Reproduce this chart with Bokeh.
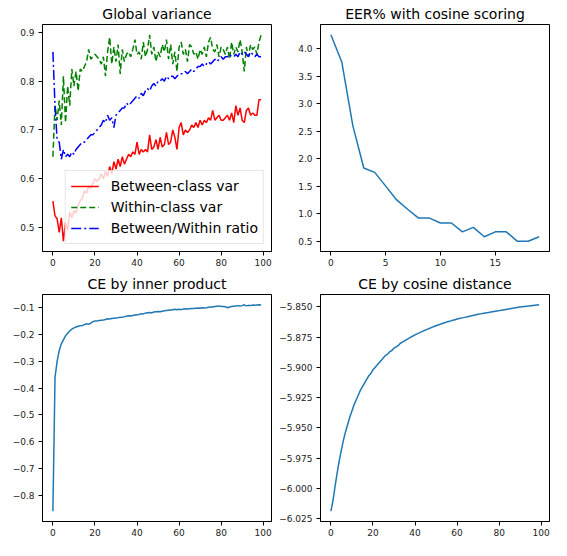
from bokeh.plotting import figure
from bokeh.layouts import column, row
from bokeh.models import Range1d, FixedTicker, CustomJSTickFormatter
from bokeh.embed import file_html
from bokeh.resources import INLINE

# ---------------- data ----------------
epochs100 = list(range(100))
epochs20 = list(range(20))

between_var = [
    0.554, 0.524, 0.518, 0.490, 0.520, 0.472, 0.510, 0.495, 0.532, 0.520, 0.535,
    0.530, 0.545, 0.555, 0.560, 0.575, 0.570, 0.585, 0.580, 0.590, 0.600,
    0.595, 0.600, 0.610, 0.600, 0.615, 0.605, 0.625, 0.610, 0.635, 0.620,
    0.640, 0.625, 0.645, 0.630, 0.640, 0.650, 0.645, 0.655, 0.650, 0.675,
    0.650, 0.660, 0.655, 0.660, 0.655, 0.690, 0.660, 0.665, 0.680, 0.660,
    0.685, 0.665, 0.670, 0.695, 0.670, 0.675, 0.700, 0.685, 0.660, 0.705,
    0.715, 0.690, 0.700, 0.695, 0.700, 0.710, 0.705, 0.715, 0.705, 0.720,
    0.710, 0.720, 0.715, 0.725, 0.720, 0.740, 0.720, 0.725, 0.730, 0.720,
    0.720, 0.725, 0.730, 0.720, 0.735, 0.715, 0.750, 0.730, 0.745, 0.720,
    0.715, 0.740, 0.745, 0.730, 0.735, 0.730, 0.730, 0.762, 0.762,
]
within_var = [
    0.645, 0.750, 0.720, 0.760, 0.710, 0.810, 0.715, 0.790, 0.750, 0.825, 0.790,
    0.820, 0.780, 0.825, 0.820, 0.830, 0.840, 0.865, 0.845, 0.850, 0.855,
    0.850, 0.845, 0.835, 0.850, 0.810, 0.860, 0.890, 0.835, 0.870, 0.840,
    0.875, 0.815, 0.865, 0.840, 0.855, 0.860, 0.850, 0.865, 0.885, 0.855,
    0.860, 0.845, 0.880, 0.850, 0.865, 0.895, 0.855, 0.870, 0.840, 0.860,
    0.850, 0.875, 0.860, 0.885, 0.845, 0.875, 0.835, 0.860, 0.820, 0.870,
    0.880, 0.855, 0.865, 0.840, 0.875, 0.870, 0.855, 0.860, 0.845, 0.865,
    0.855, 0.870, 0.850, 0.880, 0.890, 0.865, 0.860, 0.875, 0.850, 0.870,
    0.865, 0.855, 0.870, 0.845, 0.880, 0.855, 0.870, 0.860, 0.885, 0.860,
    0.820, 0.870, 0.850, 0.875, 0.865, 0.870, 0.855, 0.880, 0.895,
]
ratio = [
    0.860, 0.750, 0.680, 0.675, 0.640, 0.660, 0.645, 0.650, 0.645, 0.655, 0.650,
    0.660, 0.665, 0.670, 0.675, 0.675, 0.680, 0.685, 0.690, 0.690, 0.695,
    0.700, 0.705, 0.710, 0.720, 0.715, 0.730, 0.720, 0.725, 0.705, 0.730,
    0.735, 0.740, 0.745, 0.745, 0.755, 0.750, 0.755, 0.760, 0.765, 0.770,
    0.765, 0.775, 0.770, 0.780, 0.785, 0.780, 0.790, 0.795, 0.790, 0.800,
    0.800, 0.805, 0.800, 0.810, 0.805, 0.810, 0.810, 0.805, 0.810, 0.815,
    0.815, 0.815, 0.820, 0.815, 0.820, 0.825, 0.820, 0.825, 0.830, 0.830,
    0.835, 0.830, 0.835, 0.840, 0.835, 0.840, 0.845, 0.840, 0.845, 0.850,
    0.845, 0.850, 0.850, 0.855, 0.850, 0.850, 0.855, 0.850, 0.860, 0.855,
    0.860, 0.855, 0.850, 0.860, 0.855, 0.850, 0.855, 0.850, 0.850,
]
eer = [4.25, 3.75, 2.60, 1.83, 1.75, 1.50, 1.25, 1.08, 0.92, 0.92,
       0.83, 0.83, 0.67, 0.75, 0.58, 0.67, 0.67, 0.50, 0.50, 0.58]
ce_inner = [
    -0.860, -0.360, -0.300, -0.260, -0.235, -0.220, -0.205, -0.195, -0.187, -0.180,
    -0.175, -0.172, -0.169, -0.167, -0.166, -0.163, -0.160, -0.162, -0.157, -0.152,
    -0.149, -0.149, -0.148, -0.147, -0.146, -0.144, -0.141, -0.142, -0.140, -0.139,
    -0.138, -0.137, -0.135, -0.136, -0.133, -0.132, -0.130, -0.131, -0.129, -0.127,
    -0.126, -0.125, -0.122, -0.123, -0.120, -0.119, -0.118, -0.119, -0.116, -0.115,
    -0.114, -0.115, -0.113, -0.111, -0.110, -0.109, -0.108, -0.107, -0.106, -0.107,
    -0.106, -0.107, -0.105, -0.104, -0.105, -0.104, -0.103, -0.103, -0.102, -0.101,
    -0.102, -0.100, -0.101, -0.100, -0.098, -0.097, -0.097, -0.095, -0.094, -0.093,
    -0.095, -0.095, -0.096, -0.100, -0.097, -0.095, -0.094, -0.093, -0.092, -0.093,
    -0.092, -0.089, -0.093, -0.091, -0.092, -0.090, -0.091, -0.090, -0.089, -0.090,
]
ce_cosine = [
    -6.0190, -6.0100, -5.9980, -5.9870, -5.9770, -5.9680, -5.9600, -5.9530, -5.9470, -5.9410,
    -5.9360, -5.9310, -5.9270, -5.9230, -5.9190, -5.9160, -5.9130, -5.9100, -5.9070, -5.9050,
    -5.9020, -5.9000, -5.8980, -5.8960, -5.8940, -5.8920, -5.8900, -5.8890, -5.8870, -5.8860,
    -5.8840, -5.8830, -5.8820, -5.8800, -5.8790, -5.8780, -5.8770, -5.8760, -5.8750, -5.8740,
    -5.8730, -5.8722, -5.8714, -5.8706, -5.8698, -5.8690, -5.8683, -5.8676, -5.8669, -5.8662,
    -5.8655, -5.8649, -5.8643, -5.8637, -5.8631, -5.8625, -5.8620, -5.8615, -5.8610, -5.8605,
    -5.8600, -5.8596, -5.8592, -5.8588, -5.8584, -5.8580, -5.8576, -5.8572, -5.8568, -5.8564,
    -5.8560, -5.8557, -5.8554, -5.8551, -5.8548, -5.8545, -5.8542, -5.8539, -5.8536, -5.8533,
    -5.8530, -5.8527, -5.8524, -5.8521, -5.8518, -5.8515, -5.8512, -5.8509, -5.8506, -5.8503,
    -5.8500, -5.8498, -5.8496, -5.8494, -5.8492, -5.8490, -5.8488, -5.8486, -5.8484, -5.8482,
]

x_ticks_100 = [0, 20, 40, 60, 80, 100]
x_ticks_20 = [0, 5, 10, 15]
y_ticks_var = [0.5, 0.6, 0.7, 0.8, 0.9]
y_ticks_eer = [0.5, 1.0, 1.5, 2.0, 2.5, 3.0, 3.5, 4.0]
y_ticks_inner = [-0.8, -0.7, -0.6, -0.5, -0.4, -0.3, -0.2, -0.1]
y_ticks_cos = [-6.025, -6.000, -5.975, -5.950, -5.925, -5.900, -5.875, -5.850]

FONT = "DejaVu Sans"
BLUE = "#1f77b4"


def padded(lo, hi):
    s = hi - lo
    return Range1d(lo - 0.05 * s, hi + 0.05 * s)


def fmt(dec):
    return CustomJSTickFormatter(
        code="return tick.toFixed(%d).replace('-', '\u2212');" % dec)


def make_fig(title, width, height, xs, ys_list, xticks, yticks, ydec,
             bl, br, bt, bb):
    ymin = min(min(y) for y in ys_list)
    ymax = max(max(y) for y in ys_list)
    p = figure(width=width, height=height, output_backend="svg",
               toolbar_location=None, title=title,
               x_range=padded(min(xs), max(xs)), y_range=padded(ymin, ymax),
               min_border_left=bl, min_border_right=br,
               min_border_top=bt, min_border_bottom=bb)
    p.title.text_font = FONT
    p.title.text_font_size = "14px"
    p.title.text_font_style = "normal"
    p.title.align = "center"
    p.title.text_color = "black"
    p.title.standoff = 5
    p.xgrid.visible = False
    p.ygrid.visible = False
    p.outline_line_color = "black"
    p.outline_line_width = 1
    p.outline_line_alpha = 1
    p.background_fill_color = "white"
    p.border_fill_color = "white"
    for ax, ticks, dec, so in ((p.xaxis[0], xticks, 0, 3),
                               (p.yaxis[0], yticks, ydec, 4)):
        ax.ticker = FixedTicker(ticks=ticks)
        ax.formatter = fmt(dec)
        ax.major_label_text_font = FONT
        ax.major_label_text_font_size = "9px"
        ax.major_label_text_color = "#222222"
        ax.major_tick_out = 4
        ax.major_tick_in = 0
        ax.minor_tick_out = 0
        ax.minor_tick_in = 0
        ax.major_label_standoff = so
        ax.axis_line_color = "black"
        ax.major_tick_line_color = "black"
    return p


# top-left: global variance
p1 = make_fig("Global variance", 276, 270, epochs100,
              [between_var, within_var, ratio], x_ticks_100, y_ticks_var, 1,
              42, 5, 24, 19)
p1.line(epochs100, between_var, color="#ff0000", line_width=1.5,
        legend_label="Between-class var")
p1.line(epochs100, within_var, color="#008000", line_width=1.5,
        line_dash="6 3", legend_label="Within-class var")
p1.line(epochs100, ratio, color="#0000ff", line_width=1.5,
        line_dash="10 3 2 3", legend_label="Between/Within ratio")
lg = p1.legend[0]
lg.location = "bottom_right"
lg.label_text_font = FONT
lg.label_text_font_size = "14px"
lg.label_text_color = "black"
lg.glyph_width = 28
lg.glyph_height = 20
lg.label_height = 20
lg.label_standoff = 12
lg.spacing = 1
lg.padding = 5
lg.margin = 7
lg.border_line_color = "#cccccc"
lg.border_line_width = 1
lg.background_fill_alpha = 0.8

# top-right: EER
p2 = make_fig("EER% with cosine scoring", 275, 270, epochs20, [eer],
              x_ticks_20, y_ticks_eer, 1, 44, 2, 24, 19)
p2.line(epochs20, eer, color=BLUE, line_width=1.5)

# bottom-left: CE inner product
p3 = make_fig("CE by inner product", 276, 270, epochs100, [ce_inner],
              x_ticks_100, y_ticks_inner, 1, 42, 5, 24, 19)
p3.line(epochs100, ce_inner, color=BLUE, line_width=1.5)

# bottom-right: CE cosine distance
p4 = make_fig("CE by cosine distance", 275, 270, epochs100, [ce_cosine],
              x_ticks_100, y_ticks_cos, 3, 44, 2, 24, 19)
p4.line(epochs100, ce_cosine, color=BLUE, line_width=1.5)

layout = column(row(p1, p2), row(p3, p4))

open("out.html", "w").write(file_html(layout, INLINE))
